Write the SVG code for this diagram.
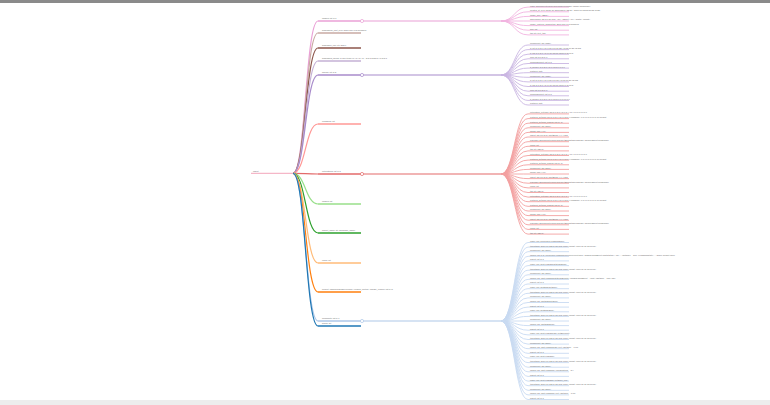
<svg xmlns="http://www.w3.org/2000/svg" width="770" height="405" viewBox="0 0 770 405">
<style>
text{font-family:"Liberation Sans",Arial,sans-serif;font-size:2.1px;fill:#666;stroke:none}
path{fill:none}
.lf path{stroke-width:0.9}
.n1 path{stroke-width:1.3}
circle{fill:#fff;stroke-width:0.7}
.pk{stroke:#eaa0d6}.pkl{stroke:#f2b3e0}
.tn{stroke:#c9aaa3}.br{stroke:#8c564b}.lv{stroke:#c5b0d5}
.pu{stroke:#a88bcb}.pul{stroke:#c9b5e2}
.sa{stroke:#ff9896}.rd{stroke:#e36a6a}.rdl{stroke:#f3a0a0}
.lg{stroke:#98df8a}.gr{stroke:#2ca02c}.lo{stroke:#ffbb78}.or{stroke:#ff7f0e}
.lb{stroke:#aec7e8}.lbl{stroke:#c8daf2}.bl{stroke:#1f77b4}
.rt{stroke:#f5b7c8}
</style>
<rect width="770" height="405" fill="#fff"/>
<rect width="770" height="3" fill="#8a8a8a"/>
<rect y="400" width="770" height="5" fill="#ededed"/>

<g id="connectors">
<path class="pk" stroke-width="1.2" d="M293,173.3C305.5,173.3 305.5,21 318,21"/>
<path class="tn" stroke-width="1.2" d="M293,173.3C305.5,173.3 305.5,33 318,33"/>
<path class="br" stroke-width="1.2" d="M293,173.3C305.5,173.3 305.5,48 318,48"/>
<path class="lv" stroke-width="1.2" d="M293,173.3C305.5,173.3 305.5,61 318,61"/>
<path class="pu" stroke-width="1.2" d="M293,173.3C305.5,173.3 305.5,75 318,75"/>
<path class="sa" stroke-width="1.2" d="M293,173.3C305.5,173.3 305.5,124 318,124"/>
<path class="rd" stroke-width="1.2" d="M293,173.3C305.5,173.3 305.5,174 318,174"/>
<path class="lg" stroke-width="1.2" d="M293,173.3C305.5,173.3 305.5,204 318,204"/>
<path class="gr" stroke-width="1.2" d="M293,173.3C305.5,173.3 305.5,233 318,233"/>
<path class="lo" stroke-width="1.2" d="M293,173.3C305.5,173.3 305.5,263 318,263"/>
<path class="or" stroke-width="1.2" d="M293,173.3C305.5,173.3 305.5,292 318,292"/>
<path class="lb" stroke-width="1.2" d="M293,173.3C305.5,173.3 305.5,321 318,321"/>
<path class="bl" stroke-width="1.2" d="M293,173.3C305.5,173.3 305.5,326 318,326"/>
<path class="pk" stroke-width="1.1" d="M363,21H501"/>
<path class="pu" stroke-width="1.1" d="M363,75H501"/>
<path class="rd" stroke-width="1.1" d="M363,174H501"/>
<path class="lb" stroke-width="1.1" d="M363,321H501"/>
<g class="pkl" stroke-width="0.9">
<path d="M501,21C514.5,21 514.5,7.1 528,7.1"/><path d="M501,21C514.5,21 514.5,11.8 528,11.8"/><path d="M501,21C514.5,21 514.5,16.4 528,16.4"/><path d="M501,21C514.5,21 514.5,21 528,21"/><path d="M501,21C514.5,21 514.5,25.6 528,25.6"/><path d="M501,21C514.5,21 514.5,30.2 528,30.2"/><path d="M501,21C514.5,21 514.5,34.9 528,34.9"/>
</g>
<g class="pul" stroke-width="0.9">
<path d="M501,75C514.5,75 514.5,45 528,45"/><path d="M501,75C514.5,75 514.5,49.6 528,49.6"/><path d="M501,75C514.5,75 514.5,54.2 528,54.2"/><path d="M501,75C514.5,75 514.5,58.8 528,58.8"/><path d="M501,75C514.5,75 514.5,63.5 528,63.5"/><path d="M501,75C514.5,75 514.5,68.1 528,68.1"/><path d="M501,75C514.5,75 514.5,72.7 528,72.7"/><path d="M501,75C514.5,75 514.5,77.3 528,77.3"/><path d="M501,75C514.5,75 514.5,81.9 528,81.9"/><path d="M501,75C514.5,75 514.5,86.5 528,86.5"/><path d="M501,75C514.5,75 514.5,91.2 528,91.2"/><path d="M501,75C514.5,75 514.5,95.8 528,95.8"/><path d="M501,75C514.5,75 514.5,100.4 528,100.4"/><path d="M501,75C514.5,75 514.5,105 528,105"/>
</g>
<g class="rdl" stroke-width="0.9">
<path d="M501,174C514.5,174 514.5,113.9 528,113.9"/><path d="M501,174C514.5,174 514.5,118.6 528,118.6"/><path d="M501,174C514.5,174 514.5,123.2 528,123.2"/><path d="M501,174C514.5,174 514.5,127.8 528,127.8"/><path d="M501,174C514.5,174 514.5,132.4 528,132.4"/><path d="M501,174C514.5,174 514.5,137 528,137"/><path d="M501,174C514.5,174 514.5,141.7 528,141.7"/><path d="M501,174C514.5,174 514.5,146.3 528,146.3"/><path d="M501,174C514.5,174 514.5,150.9 528,150.9"/><path d="M501,174C514.5,174 514.5,155.5 528,155.5"/><path d="M501,174C514.5,174 514.5,160.1 528,160.1"/><path d="M501,174C514.5,174 514.5,164.8 528,164.8"/><path d="M501,174C514.5,174 514.5,169.4 528,169.4"/><path d="M501,174C514.5,174 514.5,174 528,174"/><path d="M501,174C514.5,174 514.5,178.6 528,178.6"/><path d="M501,174C514.5,174 514.5,183.2 528,183.2"/><path d="M501,174C514.5,174 514.5,187.9 528,187.9"/><path d="M501,174C514.5,174 514.5,192.5 528,192.5"/><path d="M501,174C514.5,174 514.5,197.1 528,197.1"/><path d="M501,174C514.5,174 514.5,201.7 528,201.7"/><path d="M501,174C514.5,174 514.5,206.3 528,206.3"/><path d="M501,174C514.5,174 514.5,211 528,211"/><path d="M501,174C514.5,174 514.5,215.6 528,215.6"/><path d="M501,174C514.5,174 514.5,220.2 528,220.2"/><path d="M501,174C514.5,174 514.5,224.8 528,224.8"/><path d="M501,174C514.5,174 514.5,229.4 528,229.4"/><path d="M501,174C514.5,174 514.5,234.1 528,234.1"/>
</g>
<g class="lbl" stroke-width="0.9">
<path d="M501,321C514.5,321 514.5,242.5 528,242.5"/><path d="M501,321C514.5,321 514.5,247.1 528,247.1"/><path d="M501,321C514.5,321 514.5,251.7 528,251.7"/><path d="M501,321C514.5,321 514.5,256.3 528,256.3"/><path d="M501,321C514.5,321 514.5,260.9 528,260.9"/><path d="M501,321C514.5,321 514.5,265.6 528,265.6"/><path d="M501,321C514.5,321 514.5,270.2 528,270.2"/><path d="M501,321C514.5,321 514.5,274.8 528,274.8"/><path d="M501,321C514.5,321 514.5,279.4 528,279.4"/><path d="M501,321C514.5,321 514.5,284 528,284"/><path d="M501,321C514.5,321 514.5,288.7 528,288.7"/><path d="M501,321C514.5,321 514.5,293.3 528,293.3"/><path d="M501,321C514.5,321 514.5,297.9 528,297.9"/><path d="M501,321C514.5,321 514.5,302.5 528,302.5"/><path d="M501,321C514.5,321 514.5,307.1 528,307.1"/><path d="M501,321C514.5,321 514.5,311.8 528,311.8"/><path d="M501,321C514.5,321 514.5,316.4 528,316.4"/><path d="M501,321C514.5,321 514.5,321 528,321"/><path d="M501,321C514.5,321 514.5,325.6 528,325.6"/><path d="M501,321C514.5,321 514.5,330.2 528,330.2"/><path d="M501,321C514.5,321 514.5,334.9 528,334.9"/><path d="M501,321C514.5,321 514.5,339.5 528,339.5"/><path d="M501,321C514.5,321 514.5,344.1 528,344.1"/><path d="M501,321C514.5,321 514.5,348.7 528,348.7"/><path d="M501,321C514.5,321 514.5,353.3 528,353.3"/><path d="M501,321C514.5,321 514.5,358 528,358"/><path d="M501,321C514.5,321 514.5,362.6 528,362.6"/><path d="M501,321C514.5,321 514.5,367.2 528,367.2"/><path d="M501,321C514.5,321 514.5,371.8 528,371.8"/><path d="M501,321C514.5,321 514.5,376.4 528,376.4"/><path d="M501,321C514.5,321 514.5,381.1 528,381.1"/><path d="M501,321C514.5,321 514.5,385.7 528,385.7"/><path d="M501,321C514.5,321 514.5,390.3 528,390.3"/><path d="M501,321C514.5,321 514.5,394.9 528,394.9"/><path d="M501,321C514.5,321 514.5,399.5 528,399.5"/>
</g>
</g>

<g id="root" class="rt"><path stroke-width="1.2" d="M251,173.3H293"/><text x="253" y="172">object</text></g>

<g id="level1" class="n1">
<g id="n-images" class="pk"><path d="M318,21H363"/><circle cx="362" cy="21" r="1.6"/><text x="322" y="19.4">images: list of 7</text></g>
<g id="n-sublimit" class="tn"><path d="M318,33H361"/><text x="322" y="31.4">subscribers_limit_level: 2000 size of 8 members</text></g>
<g id="n-subrole" class="br"><path d="M318,48H361"/><text x="322" y="46.4">subscriber_role: str "2004"</text></g>
<g id="n-subscribed" class="lv"><path d="M318,61H361"/><text x="322" y="59.4">subscribed_books: of 100 items "?"."?"."?"."?" - id 8.3 build 8.4.3 id 8.3</text></g>
<g id="n-groups" class="pu"><path d="M318,75H363"/><circle cx="362" cy="75" r="1.6"/><text x="322" y="73.4">groups: list of 2</text></g>
<g id="n-neighbors" class="sa"><path d="M318,124H361"/><text x="322" y="122.4">neighbors: list</text></g>
<g id="n-notifications" class="rd"><path d="M318,174H363"/><circle cx="362" cy="174" r="1.6"/><text x="322" y="172.4">notifications: list of 3</text></g>
<g id="n-images2" class="lg"><path d="M318,204H361"/><text x="322" y="202.4">images: list</text></g>
<g id="n-project" class="gr"><path d="M318,233H361"/><text x="322" y="231.4">project_name: str "Company_name"</text></g>
<g id="n-users" class="lo"><path d="M318,263H361"/><text x="322" y="261.4">users: list</text></g>
<g id="n-current" class="or"><path d="M318,292H361"/><text x="322" y="290.4">current: "Owner/package/version" (version_control: "Library_version" list of 3)</text></g>
<g id="n-comments" class="lb"><path d="M318,321H363"/><circle cx="362" cy="321" r="1.6"/><text x="322" y="319.4">comments: list of 7</text></g>
<g id="n-books" class="bl"><path d="M318,326H361"/><text x="322" y="324.4">books: list</text></g>
</g>

<g id="images-leaves" class="lf pkl">
<g id="im1"><path d="M528,7.1h41"/><text x="530" y="6.5">name: Ecomm/enterprise/dep/library/package "library"/pods/index</text></g>
<g id="im2"><path d="M528,11.8h41"/><text x="530" y="11.2">created_at: [0,1] "2019-10-15T10:58:14.254Z", "2019-10-15T10:59:21.103Z"</text></g>
<g id="im3"><path d="M528,16.4h41"/><text x="530" y="15.8">image_size: "8B0K"</text></g>
<g id="im4"><path d="M528,21h41"/><text x="530" y="20.4">dimensions: obj [0,1,2] "bar", "Tx", "Target", "Tx", "width", "height"</text></g>
<g id="im5"><path d="M528,25.6h41"/><text x="530" y="25">image_features_description: 2000 size of 8 members</text></g>
<g id="im6"><path d="M528,30.2h41"/><text x="530" y="29.6">size: list</text></g>
<g id="im7"><path d="M528,34.9h41"/><text x="530" y="34.3">tag: str "text_tag"</text></g>
</g>

<g id="groups-leaves" class="lf pul">
<g id="gr1"><path d="M528,45h41"/><text x="530" y="44.4">component: obj "3086"</text></g>
<g id="gr2"><path d="M528,49.6h41"/><text x="530" y="49">a: list [0,1,2,3,4,5,6,7,8,9,10,11,12] 4,8,15,16,23,42,108</text></g>
<g id="gr3"><path d="M528,54.2h41"/><text x="530" y="53.6">b: obj [0,1,2,3,4,5,6,7,8] mixed values 1,2,3,5,8</text></g>
<g id="gr4"><path d="M528,58.8h41"/><text x="530" y="58.2">flow: list [0,1,2,3,4]</text></g>
<g id="gr5"><path d="M528,63.5h41"/><text x="530" y="62.9">flowcomponent: list of 3</text></g>
<g id="gr6"><path d="M528,68.1h41"/><text x="530" y="67.5">a_source: [0,1,2,3,4,5,6,7,8,9] 0 0 0 0</text></g>
<g id="gr7"><path d="M528,72.7h41"/><text x="530" y="72.1">features: [list]</text></g>
<g id="gr8"><path d="M528,77.3h41"/><text x="530" y="76.7">component: obj "3086"</text></g>
<g id="gr9"><path d="M528,81.9h41"/><text x="530" y="81.3">a: list [0,1,2,3,4,5,6,7,8,9,10,11] 4,8,15,16,23,42,108</text></g>
<g id="gr10"><path d="M528,86.5h41"/><text x="530" y="85.9">b: obj [0,1,2,3,4,5,6,7,8] mixed values 1,2,3,5,8</text></g>
<g id="gr11"><path d="M528,91.2h41"/><text x="530" y="90.6">flow: list [0,1,2,3,4]</text></g>
<g id="gr12"><path d="M528,95.8h41"/><text x="530" y="95.2">flowcomponent: list of 3</text></g>
<g id="gr13"><path d="M528,100.4h41"/><text x="530" y="99.8">a_source: [0,1,2,3,4,5,6,7,8,9] 0 0 0 0 0 0 0</text></g>
<g id="gr14"><path d="M528,105h41"/><text x="530" y="104.4">features: [list]</text></g>
</g>

<g id="notifications-leaves" class="lf rdl">
<g id="no1"><path d="M528,113.9h41"/><text x="530" y="113.3">notification_settings: obj [0,1,2,3,4,5,6,7] "ALL" 1,0,0,0,1,0,1,0</text></g>
<g id="no2"><path d="M528,118.6h41"/><text x="530" y="118">featured_settings: obj [0,1,2,3,4,5,6,7,8,9] "Headlamp", 0,1,1,0,1,0,0,1,1,1,0 default</text></g>
<g id="no3"><path d="M528,123.2h41"/><text x="530" y="122.6">featured_settings_parsed: obj [0, 1]</text></g>
<g id="no4"><path d="M528,127.8h41"/><text x="530" y="127.2">component: obj "2000"</text></g>
<g id="no5"><path d="M528,132.4h41"/><text x="530" y="131.8">global: flag "ALL"</text></g>
<g id="no6"><path d="M528,137h41"/><text x="530" y="136.4">object: obj [0,1,2,3] "TextBlock" 4 x 4 grid</text></g>
<g id="no7"><path d="M528,141.7h41"/><text x="530" y="141.1">publisher: Ecomm/enterprise/dep/TextBlockStack/package "SourceObject"/pods/index</text></g>
<g id="no8"><path d="M528,146.3h41"/><text x="530" y="145.7">users: list</text></g>
<g id="no9"><path d="M528,150.9h41"/><text x="530" y="150.3">tag: str "TEXT"</text></g>
<g id="no10"><path d="M528,155.5h41"/><text x="530" y="154.9">notification_settings: obj [0,1,2,3,4,5,6,7] "ALL" 1,0,0,0,1,0,1,0</text></g>
<g id="no11"><path d="M528,160.1h41"/><text x="530" y="159.5">featured_settings: obj [0,1,2,3,4,5,6,7,8,9] "Headlamp", 0,1,1,0,1,0,0,1,1,1,0 default</text></g>
<g id="no12"><path d="M528,164.8h41"/><text x="530" y="164.2">featured_settings_parsed: obj [0, 1]</text></g>
<g id="no13"><path d="M528,169.4h41"/><text x="530" y="168.8">component: obj "2000"</text></g>
<g id="no14"><path d="M528,174h41"/><text x="530" y="173.4">global: flag "ALL"</text></g>
<g id="no15"><path d="M528,178.6h41"/><text x="530" y="178">object: obj [0,1,2,3] "TextBlock" 4 x 4 grid</text></g>
<g id="no16"><path d="M528,183.2h41"/><text x="530" y="182.6">publisher: Ecomm/enterprise/dep/TextBlockStack/package "SourceObject"/pods/index</text></g>
<g id="no17"><path d="M528,187.9h41"/><text x="530" y="187.3">users: list</text></g>
<g id="no18"><path d="M528,192.5h41"/><text x="530" y="191.9">tag: str "TEXT"</text></g>
<g id="no19"><path d="M528,197.1h41"/><text x="530" y="196.5">notification_settings: obj [0,1,2,3,4,5,6,7] "ALL" 1,0,0,0,1,0,1,0</text></g>
<g id="no20"><path d="M528,201.7h41"/><text x="530" y="201.1">featured_settings: obj [0,1,2,3,4,5,6,7,8,9] "Headlamp", 0,1,1,0,1,0,0,1,1,1,0 default</text></g>
<g id="no21"><path d="M528,206.3h41"/><text x="530" y="205.7">featured_settings_parsed: obj [0, 1]</text></g>
<g id="no22"><path d="M528,211h41"/><text x="530" y="210.4">component: obj "2000"</text></g>
<g id="no23"><path d="M528,215.6h41"/><text x="530" y="215">global: flag "ALL"</text></g>
<g id="no24"><path d="M528,220.2h41"/><text x="530" y="219.6">object: obj [0,1,2,3] "TextBlock" 4 x 4 grid</text></g>
<g id="no25"><path d="M528,224.8h41"/><text x="530" y="224.2">publisher: Ecomm/enterprise/dep/TextBlockStack/package "SourceObject"/pods/index</text></g>
<g id="no26"><path d="M528,229.4h41"/><text x="530" y="228.8">users: list</text></g>
<g id="no27"><path d="M528,234.1h41"/><text x="530" y="233.5">tag: str "TEXT"</text></g>
</g>

<g id="comments-leaves" class="lf lbl">
<g id="co1"><path d="M528,242.5h41"/><text x="530" y="241.9">name: obj "MercedesHeadlamp2000"</text></g>
<g id="co2"><path d="M528,247.1h41"/><text x="530" y="246.5">timestamp: 2019-09-12T14:26:00Z (UTC) format: "Mon 01-01 15:00:00"</text></g>
<g id="co3"><path d="M528,251.7h41"/><text x="530" y="251.1">component: obj "2000"</text></g>
<g id="co4"><path d="M528,256.3h41"/><text x="530" y="255.7">calling: obj [0,1] "MercedesHeadlamp/services/event.json", window.sendEvent("lightStatus"): "on" ... (distance = 100) "HeadlampState" ... "2000" default value</text></g>
<g id="co5"><path d="M528,260.9h41"/><text x="530" y="260.3">parent: list of 3</text></g>
<g id="co6"><path d="M528,265.6h41"/><text x="530" y="265">name: obj "TestHeadlampStateOn2000"</text></g>
<g id="co7"><path d="M528,270.2h41"/><text x="530" y="269.6">timestamp: 2019-09-12T14:26:00Z (UTC) format: "Mon 01-01 15:00:00"</text></g>
<g id="co8"><path d="M528,274.8h41"/><text x="530" y="274.2">component: obj "2000"</text></g>
<g id="co9"><path d="M528,279.4h41"/><text x="530" y="278.8">calling: obj "TestHeadlampStateOnEvents", window.sendEvent = "Test" (distance = 100) "Off"</text></g>
<g id="co10"><path d="M528,284h41"/><text x="530" y="283.4">parent: list of 3</text></g>
<g id="co11"><path d="M528,288.7h41"/><text x="530" y="288.1">name: obj "TestDarkSet2000"</text></g>
<g id="co12"><path d="M528,293.3h41"/><text x="530" y="292.7">timestamp: 2019-09-12T14:26:00Z (UTC) format: "Mon 01-01 15:00:00"</text></g>
<g id="co13"><path d="M528,297.9h41"/><text x="530" y="297.3">component: obj "2000"</text></g>
<g id="co14"><path d="M528,302.5h41"/><text x="530" y="301.9">calling: obj "TestDarkSet2000"</text></g>
<g id="co15"><path d="M528,307.1h41"/><text x="530" y="306.5">parent: list of 3</text></g>
<g id="co16"><path d="M528,311.8h41"/><text x="530" y="311.2">name: obj "TestDark2000"</text></g>
<g id="co17"><path d="M528,316.4h41"/><text x="530" y="315.8">timestamp: 2019-09-12T14:26:00Z (UTC) format: "Mon 01-01 15:00:00"</text></g>
<g id="co18"><path d="M528,321h41"/><text x="530" y="320.4">component: obj "2000"</text></g>
<g id="co19"><path d="M528,325.6h41"/><text x="530" y="325">calling: obj "TestDark2017"</text></g>
<g id="co20"><path d="M528,330.2h41"/><text x="530" y="329.6">parent: list of 3</text></g>
<g id="co21"><path d="M528,334.9h41"/><text x="530" y="334.3">name: obj "TestHeadlampOnAlertBlueprint"</text></g>
<g id="co22"><path d="M528,339.5h41"/><text x="530" y="338.9">timestamp: 2019-09-12T14:26:00Z (UTC) format: "Mon 01-01 15:00:00"</text></g>
<g id="co23"><path d="M528,344.1h41"/><text x="530" y="343.5">component: obj "2000"</text></g>
<g id="co24"><path d="M528,348.7h41"/><text x="530" y="348.1">calling: obj "TestHeadlampOnAlert" (distance = 1.00)</text></g>
<g id="co25"><path d="M528,353.3h41"/><text x="530" y="352.7">parent: list of 3</text></g>
<g id="co26"><path d="M528,358h41"/><text x="530" y="357.4">name: obj "TestHeadlamp"</text></g>
<g id="co27"><path d="M528,362.6h41"/><text x="530" y="362">timestamp: 2019-09-12T14:26:00Z (UTC) format: "Mon 01-01 15:00:00"</text></g>
<g id="co28"><path d="M528,367.2h41"/><text x="530" y="366.6">component: obj "2000"</text></g>
<g id="co29"><path d="M528,371.8h41"/><text x="530" y="371.2">calling: obj "TestHeadlamp" visualizations = 3/4</text></g>
<g id="co30"><path d="M528,376.4h41"/><text x="530" y="375.8">parent: list of 3</text></g>
<g id="co31"><path d="M528,381.1h41"/><text x="530" y="380.5">name: obj "TestHeadlampAlert2000_pos"</text></g>
<g id="co32"><path d="M528,385.7h41"/><text x="530" y="385.1">timestamp: 2019-09-12T14:26:00Z (UTC) format: "Mon 01-01 15:00:00"</text></g>
<g id="co33"><path d="M528,390.3h41"/><text x="530" y="389.7">component: obj "2000"</text></g>
<g id="co34"><path d="M528,394.9h41"/><text x="530" y="394.3">calling: obj "TestHeadlampAlert" (distance = 1.00)</text></g>
<g id="co35"><path d="M528,399.5h41"/><text x="530" y="398.9">parent: list of 3</text></g>
</g>
</svg>
